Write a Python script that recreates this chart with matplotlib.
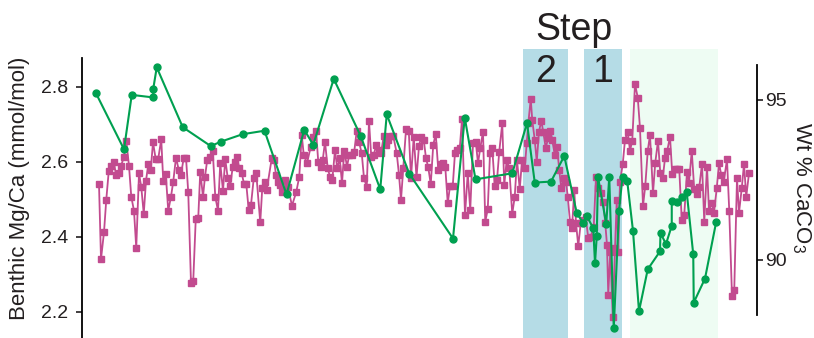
import matplotlib
matplotlib.use('Agg')
import matplotlib.pyplot as plt

plt.rcParams['font.family'] = ['Liberation Sans', 'DejaVu Sans']
plt.rcParams['mathtext.default'] = 'regular'

# relative age (arbitrary units, axis not shown)
age_mgca = [6.8, 7.6, 8.8, 9.7, 10.7, 11.6, 12.7, 13.6, 14.7, 15.6,
            16.8, 17.7, 18.8, 19.7, 20.8, 21.7, 22.8, 23.7, 24.7, 25.6,
            26.5, 27.5, 28.4, 29.5, 30.5, 31.7, 32.5, 33.5, 34.5, 35.6,
            36.5, 37.6, 38.7, 39.6, 40.7, 41.6, 42.5, 43.6, 44.5, 45.5,
            46.5, 47.3, 48.4, 49.2, 50.1, 51.2, 52.3, 53.3, 54.4, 55.3,
            56.4, 57.3, 58.3, 59.3, 60.3, 61.2, 62.0, 62.9, 63.9, 64.8,
            65.7, 66.7, 67.6, 68.7, 69.7, 71.3, 72.1, 73.1, 73.9, 75.9,
            76.8, 77.6, 78.5, 79.3, 80.1, 81.2, 82.3, 84.0, 85.7, 86.9,
            87.9, 88.7, 90.0, 91.5, 92.5, 93.6, 94.5, 95.5, 96.3, 97.2,
            98.3, 99.2, 100.1, 101.2, 102.1, 103.1, 104.0, 104.9, 106.0, 106.9,
            107.9, 108.9, 109.9, 110.8, 111.9, 112.8, 113.9, 114.8, 115.7, 116.7,
            117.7, 118.7, 119.6, 120.7, 121.6, 122.5, 123.6, 124.5, 125.9, 126.8,
            127.6, 128.5, 129.6, 130.7, 131.6, 132.7, 133.8, 134.8, 135.7, 136.7,
            137.6, 138.5, 139.5, 140.5, 141.5, 142.5, 143.5, 144.4, 145.3, 146.3,
            147.2, 148.3, 149.2, 150.1, 151.1, 152.0, 153.2, 154.3, 155.3, 156.4,
            157.5, 158.4, 159.3, 160.4, 161.3, 162.3, 163.2, 164.1, 165.1, 166.0,
            166.9, 168.1, 168.9, 169.9, 170.9, 172.1, 173.1, 174.0, 175.1, 176.0,
            177.1, 177.9, 178.5, 179.5, 180.1, 181.1, 181.9, 182.8, 183.7, 184.5,
            185.5, 186.4, 187.3, 188.1, 189.1, 190.0, 190.9, 191.7, 192.7, 193.6,
            194.3, 195.2, 196.0, 196.9, 197.6, 198.5, 199.5, 200.5, 201.5, 202.5,
            203.5, 204.7, 205.6, 206.5, 207.5, 208.5, 209.3, 210.0, 210.5, 211.3,
            212.3, 213.2, 213.9, 214.5, 215.2, 216.3, 217.2, 218.3, 219.2, 220.1,
            221.2, 222.3, 223.2, 224.4, 225.3, 226.3, 227.2, 228.4, 229.3, 230.4,
            231.3, 232.3, 233.2, 234.1, 235.2, 236.1, 237.1, 238.0, 238.9, 239.9,
            240.9, 242.0, 242.8, 243.9, 244.9, 246.0, 246.9, 248.0, 248.9, 250.0,
            250.8, 251.9, 252.8, 253.9, 254.8, 255.7, 256.7, 258.0, 258.9, 260.0,
            260.9, 262.0, 262.8, 263.9, 264.8, 265.7, 266.8]

mgca = [2.540, 2.340, 2.412, 2.498, 2.575, 2.589, 2.600, 2.565, 2.571, 2.589,
        2.613, 2.656, 2.589, 2.507, 2.469, 2.370, 2.569, 2.533, 2.461, 2.549,
        2.593, 2.578, 2.652, 2.606, 2.608, 2.660, 2.548, 2.568, 2.469, 2.507,
        2.547, 2.611, 2.578, 2.565, 2.611, 2.611, 2.518, 2.276, 2.283, 2.447,
        2.450, 2.573, 2.507, 2.560, 2.605, 2.613, 2.629, 2.507, 2.469, 2.596,
        2.522, 2.607, 2.556, 2.535, 2.587, 2.600, 2.613, 2.582, 2.569, 2.541,
        2.541, 2.470, 2.485, 2.556, 2.569, 2.438, 2.529, 2.547, 2.525, 2.609,
        2.605, 2.565, 2.547, 2.538, 2.520, 2.551, 2.533, 2.483, 2.519, 2.560,
        2.671, 2.618, 2.596, 2.640, 2.667, 2.683, 2.600, 2.587, 2.605, 2.653,
        2.582, 2.560, 2.551, 2.631, 2.582, 2.609, 2.542, 2.629, 2.587, 2.618,
        2.618, 2.627, 2.683, 2.653, 2.622, 2.556, 2.533, 2.709, 2.613, 2.618,
        2.645, 2.631, 2.622, 2.669, 2.645, 2.658, 2.669, 2.669, 2.622, 2.565,
        2.498, 2.582, 2.686, 2.683, 2.556, 2.667, 2.558, 2.642, 2.667, 2.658,
        2.609, 2.585, 2.540, 2.645, 2.674, 2.578, 2.594, 2.596, 2.587, 2.489,
        2.535, 2.535, 2.624, 2.631, 2.636, 2.713, 2.458, 2.569, 2.471, 2.649,
        2.653, 2.596, 2.636, 2.680, 2.440, 2.473, 2.622, 2.636, 2.535, 2.551,
        2.627, 2.702, 2.538, 2.605, 2.582, 2.461, 2.507, 2.605, 2.526, 2.605,
        2.582, 2.649, 2.702, 2.767, 2.711, 2.658, 2.600, 2.680, 2.709, 2.680,
        2.636, 2.662, 2.683, 2.658, 2.618, 2.640, 2.578, 2.529, 2.556, 2.547,
        2.507, 2.440, 2.422, 2.525, 2.437, 2.375, 2.437, 2.445, 2.453, 2.396,
        2.400, 2.427, 2.560, 2.529, 2.516, 2.493, 2.436, 2.378, 2.245, 2.360,
        2.187, 2.369, 2.498, 2.360, 2.547, 2.594, 2.658, 2.680, 2.629, 2.656,
        2.807, 2.771, 2.689, 2.482, 2.535, 2.629, 2.671, 2.516, 2.597, 2.656,
        2.571, 2.556, 2.609, 2.629, 2.667, 2.567, 2.580, 2.580, 2.580, 2.445,
        2.458, 2.573, 2.544, 2.629, 2.526, 2.514, 2.532, 2.594, 2.440, 2.587,
        2.469, 2.491, 2.464, 2.529, 2.596, 2.565, 2.547, 2.606, 2.469, 2.242,
        2.258, 2.556, 2.464, 2.529, 2.594, 2.507, 2.569]

age_caco3 = [5.6, 16.8, 19.9, 28.5, 28.5, 29.9, 40.3, 51.5, 55.6, 64.2,
             73.0, 81.8, 88.9, 92.5, 100.7, 111.5, 119.3, 121.9, 130.9, 148.4,
             153.1, 157.4, 172.1, 178.0, 181.1, 187.6, 192.9, 197.9, 200.5, 201.9,
             204.5, 205.2, 205.9, 206.4, 209.7, 210.9, 212.7, 214.8, 216.2, 218.1,
             220.4, 222.8, 226.3, 231.2, 231.4, 233.6, 235.9, 235.9, 238.0, 240.1,
             241.9, 244.5, 244.7, 249.2, 253.7]

caco3 = [95.21, 93.46, 95.16, 95.08, 95.35, 96.02, 94.15, 93.56, 93.70, 93.93,
         94.04, 92.05, 94.07, 93.60, 95.66, 93.87, 92.21, 94.55, 92.70, 90.67,
         94.45, 92.52, 92.71, 94.28, 92.42, 92.45, 93.25, 91.47, 91.15, 91.38,
         90.99, 89.90, 90.74, 92.60, 91.12, 92.60, 87.87, 91.54, 92.60, 92.46,
         90.91, 88.40, 89.71, 90.27, 90.84, 90.50, 91.07, 91.84, 91.80, 91.98,
         92.11, 90.18, 88.67, 89.42, 91.20]

# shaded intervals
step_spans = [(176.3, 194.5), (200.9, 215.9)]
step_names = ['2', '1']
recovery_span = (219.2, 254.5)

fig = plt.figure(figsize=(8.14, 3.38), dpi=100)
ax = fig.add_axes([82 / 814, 0, 675 / 814, 1])
ax2 = ax.twinx()

for (a, b), name in zip(step_spans, step_names):
    ax.axvspan(a, b, ymin=0, ymax=0.855, color='#b5dce6', lw=0, zorder=0)
    ax.text((a + b) / 2, 0.757, name, transform=ax.get_xaxis_transform(),
            ha='center', va='baseline', fontsize=27, color='#231f20')
ax.axvspan(*recovery_span, ymin=0, ymax=0.855, color='#eefcf3', lw=0, zorder=0)
ax.text(196.8, 0.882, 'Step', transform=ax.get_xaxis_transform(),
        ha='center', va='baseline', fontsize=27, color='#231f20')

ax.plot(age_mgca, mgca, color='#c24b8f', lw=1.3, marker='s', ms=3.8,
        mec='#c24b8f', zorder=3)
ax2.plot(age_caco3, caco3, color='#00a050', lw=1.5, marker='o', ms=5,
         zorder=4)

ax.set_xlim(0, 270)
ax.set_ylim(2.130, 3.031)
ax2.set_ylim(87.5625, 98.125)
ax.set_yticks([2.2, 2.4, 2.6, 2.8])
ax.set_yticklabels(['2.2', '2.4', '2.6', '2.8'])
ax2.set_yticks([90, 95])

for a in (ax, ax2):
    a.spines['top'].set_visible(False)
    a.spines['bottom'].set_visible(False)
    a.set_xticks([])
    a.patch.set_visible(False)
ax.spines['right'].set_visible(False)
ax2.spines['left'].set_visible(False)
ax.spines['left'].set_bounds(2.130, 2.877)
ax2.spines['right'].set_bounds(88.28, 96.09)
ax.spines['left'].set_linewidth(1.3)
ax2.spines['right'].set_linewidth(1.3)
ax.tick_params(axis='y', length=4, width=1.2, labelsize=14, pad=6, colors='#231f20')
ax2.tick_params(axis='y', length=4, width=1.2, labelsize=14, pad=2, colors='#231f20')
ax.set_zorder(ax2.get_zorder() - 1)

fig.text(20 / 814, 0.444, 'Benthic Mg/Ca (mmol/mol)', rotation=90,
         ha='center', va='center', fontsize=16, color='#231f20')
fig.text(801 / 814, 0.444, 'Wt % CaCO$_3$', rotation=270,
         ha='center', va='center', fontsize=16, color='#231f20')

fig.savefig('out.png', dpi=100)
